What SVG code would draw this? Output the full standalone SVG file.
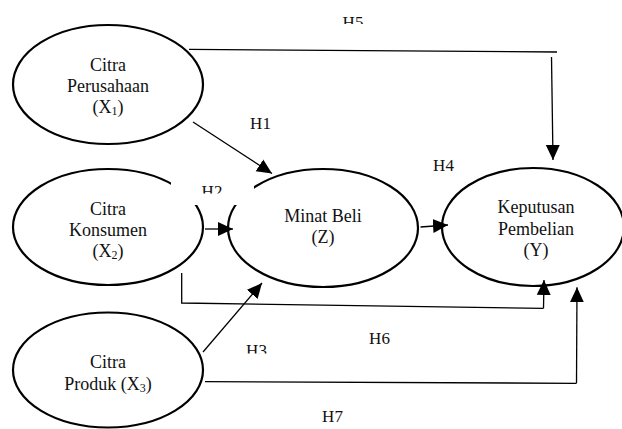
<svg xmlns="http://www.w3.org/2000/svg" width="622" height="429" viewBox="0 0 622 429">
<style>
.node ellipse{fill:none;stroke:#000;stroke-width:2.2}
.nt{font-family:"Liberation Serif","Times New Roman",serif;font-size:18px;fill:#111;text-anchor:middle}
.lbl{font-family:"Liberation Serif","Times New Roman",serif;font-size:17px;fill:#111;text-anchor:middle}
.sub{font-size:12px}
#connectors line,#connectors polyline{fill:none;stroke:#000;stroke-width:1.3}
</style>
<defs>
<marker id="ah" markerUnits="userSpaceOnUse" markerWidth="16" markerHeight="16" viewBox="0 0 16 16" refX="15" refY="8" orient="auto">
<path d="M0,1 L15,8 L0,15 Z" fill="#000"/>
</marker>
<clipPath id="c2"><rect x="190" y="170" width="50" height="23.5"/></clipPath>
<clipPath id="c5"><rect x="330" y="5" width="50" height="19"/></clipPath>
<clipPath id="c3"><rect x="235" y="335" width="50" height="18.5"/></clipPath>
</defs>
<rect width="622" height="429" fill="#fff"/>

<g id="node-x1" class="node">
<ellipse cx="108" cy="84.5" rx="95" ry="59.5"/>
<text class="nt" x="108" y="71">Citra</text>
<text class="nt" x="108" y="92">Perusahaan</text>
<text class="nt" x="108" y="113">(X<tspan class="sub" dy="2">1</tspan><tspan dy="-2">)</tspan></text>
</g>
<g id="node-x2" class="node">
<ellipse cx="108" cy="227" rx="95" ry="58"/>
<text class="nt" x="108" y="215">Citra</text>
<text class="nt" x="108" y="236">Konsumen</text>
<text class="nt" x="108" y="257">(X<tspan class="sub" dy="2">2</tspan><tspan dy="-2">)</tspan></text>
</g>
<g id="node-x3" class="node">
<ellipse cx="108" cy="370" rx="95" ry="57.5"/>
<text class="nt" x="108" y="368">Citra</text>
<text class="nt" x="108" y="390">Produk (X<tspan class="sub" dy="2">3</tspan><tspan dy="-2">)</tspan></text>
</g>
<g id="node-z" class="node">
<ellipse cx="323" cy="228" rx="95" ry="59"/>
<text class="nt" x="323" y="222">Minat Beli</text>
<text class="nt" x="323" y="243">(Z)</text>
</g>
<g id="node-y" class="node">
<ellipse cx="533" cy="227" rx="91" ry="59"/>
<text class="nt" x="536" y="213">Keputusan</text>
<text class="nt" x="536" y="235">Pembelian</text>
<text class="nt" x="536" y="256">(Y)</text>
</g>

<rect x="171" y="181" width="83" height="24" fill="#fff"/>

<g id="connectors">
<line x1="193" y1="122" x2="272" y2="173.5" marker-end="url(#ah)"/>
<line x1="205" y1="229" x2="233" y2="229" marker-end="url(#ah)"/>
<line x1="203" y1="352" x2="262" y2="283" marker-end="url(#ah)"/>
<line x1="420.5" y1="227" x2="448" y2="225" marker-end="url(#ah)"/>
<line x1="189" y1="49.3" x2="557" y2="52"/>
<line x1="551.5" y1="57" x2="553" y2="160" marker-end="url(#ah)"/>
<polyline points="181.7,273 181.7,303 543.5,308.3"/>
<line x1="543.5" y1="308.3" x2="544" y2="280" marker-end="url(#ah)"/>
<polyline points="205,381.7 576.5,383.3"/>
<line x1="576.5" y1="383.3" x2="577" y2="287.3" marker-end="url(#ah)"/>
</g>

<g id="labels">
<text class="lbl" x="260.5" y="129">H1</text>
<text class="lbl" x="212" y="196.5" clip-path="url(#c2)">H2</text>
<text class="lbl" x="256.5" y="356" clip-path="url(#c3)">H3</text>
<text class="lbl" x="443.5" y="171">H4</text>
<text class="lbl" x="353" y="28" clip-path="url(#c5)">H5</text>
<text class="lbl" x="379.5" y="344">H6</text>
<text class="lbl" x="332.5" y="422">H7</text>
</g>
</svg>
